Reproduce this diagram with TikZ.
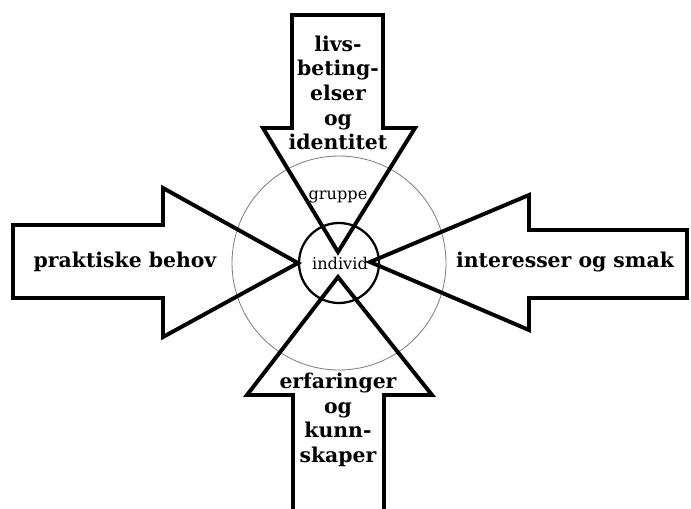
\documentclass[tikz,border=0pt]{standalone}
\usepackage{fontspec}
\setmainfont{DejaVu Serif}
\usepackage{tikz}
\usetikzlibrary{calc}

\begin{document}
\begin{tikzpicture}[x=0.025cm, y=-0.025cm,
    pil/.style={line width=2.8pt, line join=miter},
    stor/.style={font=\bfseries\fontsize{14.5}{17.5}\selectfont, align=center, inner sep=0pt},
    liten/.style={font=\fontsize{11.5}{13}\selectfont, inner sep=0pt}]

    % 1. Rammen for hele figuren (691 x 508)
    \useasboundingbox (0,0) rectangle (691,508);
    \clip (0,0) rectangle (691,508);

    % 2. Sentrum O og de to sirklene (gruppe og individ)
    \coordinate (O) at (339,263);
    \draw[gray, line width=0.6pt] (O) circle (107);
    \draw[line width=1.6pt] (O) circle (40);

    % 3. Pilen ovenfra
    \coordinate (T) at (338,252);
    \draw[pil] (T) -- (415,128) -- (383,128) -- (383,15) -- (292,15)
        -- (292,128) -- (263,128) -- cycle;

    % 4. Pilen nedenfra
    \coordinate (B) at (338,277);
    \draw[pil] (B) -- (432,395) -- (384,395) -- (384,530) -- (293,530)
        -- (293,395) -- (247,395) -- cycle;

    % 5. Pilen fra venstre
    \coordinate (V) at (298,263);
    \draw[pil] (V) -- (163,188) -- (163,225) -- (13,225) -- (13,298)
        -- (163,298) -- (163,337) -- cycle;

    % 6. Pilen fra hoyre
    \coordinate (H) at (370,262);
    \draw[pil] (H) -- (529,195) -- (529,230) -- (687,230) -- (687,298)
        -- (529,298) -- (529,330) -- cycle;

    % 7. Tekstene
    \node[stor] (livs) at (338,93) {livs-\\beting-\\elser\\og\\identitet};
    \node[stor] (erf) at (338,420) {erfaringer\\og\\kunn-\\skaper};
    \node[stor] (prakt) at (125,262) {praktiske behov};
    \node[stor] (inter) at (565,262) {interesser og smak};
    \node[liten] (gruppe) at (338,197) {gruppe};
    \node[liten] (individ) at (340,263) {individ};

\end{tikzpicture}
\end{document}
